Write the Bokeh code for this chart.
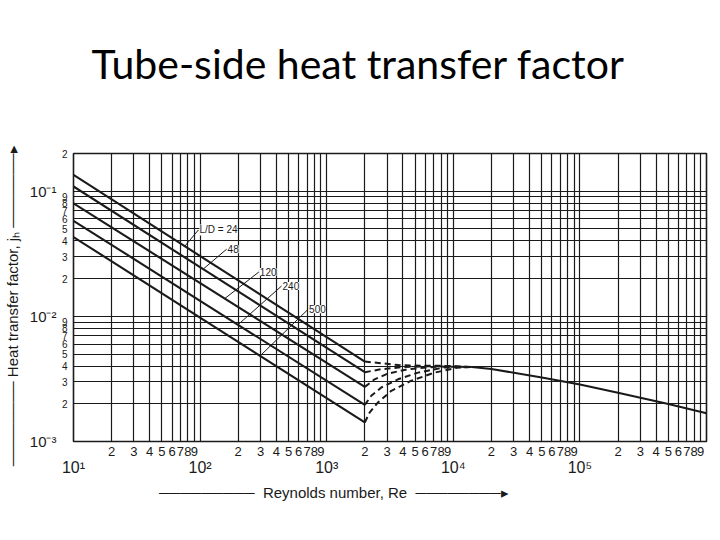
from bokeh.plotting import figure
from bokeh.models import Range1d, LogAxis, FixedTicker, Label, Title
from bokeh.embed import file_html
from bokeh.resources import INLINE

# ---------------- data ----------------
ld_names = ["L/D = 24", "48", "120", "240", "500"]

# laminar straight lines (Re = 10 .. 2000)
lam_re = [10, 2000]
lam_jh_24 = [0.135, 0.00435]
lam_jh_48 = [0.109, 0.00358]
lam_jh_120 = [0.080, 0.00273]
lam_jh_240 = [0.058, 0.00196]
lam_jh_500 = [0.043, 0.00142]

# dashed transition curves
tr_re_24 = [2000, 2700, 3700, 5500, 8000, 14000]
tr_jh_24 = [0.00435, 0.00422, 0.00408, 0.00403, 0.00403, 0.00394]
tr_re_48 = [2000, 2700, 4100, 6700, 14000]
tr_jh_48 = [0.00358, 0.00378, 0.00394, 0.004, 0.00394]
tr_re_120 = [2000, 2390, 3050, 4380, 7570, 14000]
tr_jh_120 = [0.00273, 0.00314, 0.00349, 0.00378, 0.00397, 0.00394]
tr_re_240 = [2000, 2250, 2700, 3660, 5260, 8470, 14000]
tr_jh_240 = [0.00196, 0.00232, 0.0027, 0.00314, 0.00355, 0.0039, 0.00394]
tr_re_500 = [2000, 2180, 2540, 3240, 4660, 7110, 10900, 14000]
tr_jh_500 = [0.00142, 0.0017, 0.00205, 0.00254, 0.00306, 0.00355, 0.0039, 0.00394]

# single turbulent line
turb_re = [14000, 20000, 50000, 100000, 200000, 500000, 1000000]
turb_jh = [0.00394, 0.0038, 0.00325, 0.00285, 0.00245, 0.00199, 0.00168]

# leader lines for the L/D labels
lead_re_start = [76, 106, 157, 200, 296]
lead_jh_start = [0.0365, 0.0239, 0.0139, 0.0086, 0.0048]
lead_re_end = [97, 162, 291, 440, 713]
lead_jh_end = [0.049, 0.0344, 0.0226, 0.01747, 0.01138]

# axes ticks and labels
x_decades = [10, 100, 1000, 10000, 100000]
x_decade_labels = ["10¹", "10²", "10³", "10⁴", "10⁵"]
x_end = 1000000
y_decades = [0.001, 0.01, 0.1]
y_decade_labels = ["10⁻³", "10⁻²", "10⁻¹"]
y_top = 0.2
mantissas = [2, 3, 4, 5, 6, 7, 8, 9]

title_text = "Tube-side heat transfer factor"
x_title = "Reynolds number, Re"
y_title = "Heat transfer factor, jₕ"

# ---------------- figure ----------------
INK = "#1a1a1a"
NB = "\u00a0"
DASH = "\u2500"
HEAD = "\u25b8"

p = figure(width=712, height=532, x_axis_type="log", y_axis_type="log",
           x_range=Range1d(x_decades[0], x_end), y_range=Range1d(y_decades[0], y_top),
           output_backend="svg", toolbar_location=None, title=None,
           min_border_left=72, min_border_right=6, min_border_top=153, min_border_bottom=91)
p.background_fill_color = "white"
p.border_fill_color = "white"
p.outline_line_color = INK
p.outline_line_width = 1.6

# title: a thin spacer next to the frame, then the slide title above it
p.add_layout(Title(text=NB, text_font_size="2px", standoff=62), "above")
p.add_layout(Title(text=title_text, text_font="Lato", text_font_size="41px",
                   text_font_style="normal", text_color="black",
                   align="left", offset=18, standoff=0), "above")

x_minor = [m * d for d in x_decades for m in mantissas]
x_minor_lab = {m * d: str(m) for d in x_decades for m in mantissas}
y_minor = [m * d for d in y_decades[:2] for m in mantissas] + [y_top]
y_minor_lab = {m * d: str(m) for d in y_decades[:2] for m in mantissas}
y_minor_lab[y_top] = "2"

# grid
p.xgrid.ticker = FixedTicker(ticks=x_decades + x_minor + [x_end])
p.ygrid.ticker = FixedTicker(ticks=y_decades + y_minor)
for g in (p.xgrid[0], p.ygrid[0]):
    g.grid_line_color = INK
    g.grid_line_width = 1.2
    g.grid_line_alpha = 1.0

def style_axis(ax, size):
    ax.axis_line_color = None
    ax.major_tick_line_color = None
    ax.minor_tick_line_color = None
    ax.major_tick_in = 0
    ax.major_tick_out = 0
    ax.minor_tick_in = 0
    ax.minor_tick_out = 0
    ax.major_label_text_font = "Liberation Sans"
    ax.major_label_text_font_size = size
    ax.major_label_text_color = INK
    ax.axis_label_text_font = "Liberation Sans"
    ax.axis_label_text_font_size = "15px"
    ax.axis_label_text_font_style = "normal"
    ax.axis_label_text_color = INK

# x: mantissa digits, then decades below
xa = p.xaxis[0]
xa.ticker = FixedTicker(ticks=x_minor)
xa.major_label_overrides = x_minor_lab
style_axis(xa, "13px")
xa.major_label_standoff = 5
xa.major_label_text_align = "right"

xd = LogAxis(ticker=FixedTicker(ticks=x_decades),
             major_label_overrides=dict(zip(x_decades, x_decade_labels)))
style_axis(xd, "16px")
xd.major_label_standoff = 0
xd.axis_label = DASH * 9 + " " + NB + x_title + NB + " " + DASH * 8 + HEAD + NB * 27
xd.axis_label_standoff = 5
p.add_layout(xd, "below")

# y: mantissa digits, then decades further left
ya = p.yaxis[0]
ya.ticker = FixedTicker(ticks=y_minor)
ya.major_label_overrides = y_minor_lab
style_axis(ya, "10px")
ya.major_label_standoff = 6

yd = LogAxis(ticker=FixedTicker(ticks=y_decades),
             major_label_overrides=dict(zip(y_decades, y_decade_labels)))
style_axis(yd, "15px")
yd.major_label_standoff = 2
yd.axis_label = DASH * 8 + " " + y_title + " " + DASH * 7 + HEAD + NB * 4
yd.axis_label_standoff = 6
p.add_layout(yd, "left")

# curves
lam_sets = [lam_jh_24, lam_jh_48, lam_jh_120, lam_jh_240, lam_jh_500]
tr_sets = [(tr_re_24, tr_jh_24), (tr_re_48, tr_jh_48), (tr_re_120, tr_jh_120),
           (tr_re_240, tr_jh_240), (tr_re_500, tr_jh_500)]
for jh in lam_sets:
    p.line(lam_re, jh, line_color=INK, line_width=2.1)
for rr, jj in tr_sets:
    p.line(rr, jj, line_color=INK, line_width=2.0, line_dash="6 4")
p.line(turb_re, turb_jh, line_color=INK, line_width=2.1)

# leaders + labels
p.segment(x0=lead_re_start, y0=lead_jh_start, x1=lead_re_end, y1=lead_jh_end,
          line_color=INK, line_width=1)
for name, rx, jy in zip(ld_names, lead_re_end, lead_jh_end):
    p.add_layout(Label(x=rx, y=jy, text=name, x_offset=1, text_baseline="middle",
                       text_font="Liberation Sans", text_font_size="10px",
                       text_color=INK, background_fill_color="white",
                       background_fill_alpha=1.0))

open("out.html", "w").write(file_html(p, INLINE))
